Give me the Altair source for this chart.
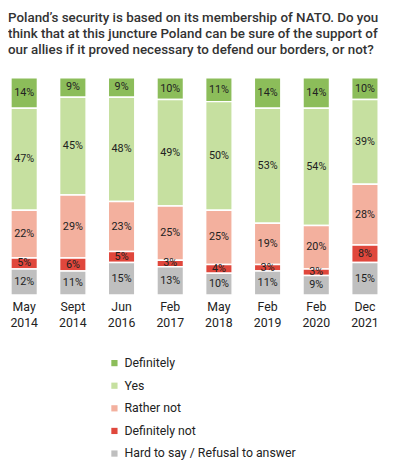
import altair as alt
import pandas as pd

dates = ["May 2014", "Sept 2014", "Jun 2016", "Feb 2017", "May 2018", "Feb 2019", "Feb 2020", "Dec 2021"]
categories = ["Definitely", "Yes", "Rather not", "Definitely not", "Hard to say / Refusal to answer"]
colors = ["#8cbd5a", "#c6e0a0", "#f3b09e", "#e0473c", "#bfbfbf"]

definitely = [14, 9, 9, 10, 11, 14, 14, 10]
yes = [47, 45, 48, 49, 50, 53, 54, 39]
rather_not = [22, 29, 23, 25, 25, 19, 20, 28]
definitely_not = [5, 6, 5, 3, 4, 3, 3, 8]
hard_to_say = [12, 11, 15, 13, 10, 11, 9, 15]

series = [definitely, yes, rather_not, definitely_not, hard_to_say]
stack_order = {c: i for i, c in enumerate(reversed(categories))}

rows = []
for cat, vals in zip(categories, series):
    for d, v in zip(dates, vals):
        rows.append({"date": d, "category": cat, "value": v, "order": stack_order[cat]})
df = pd.DataFrame(rows)

FONT = "Roboto"

base = alt.Chart(df).transform_stack(
    stack="value", groupby=["date"], as_=["y0", "y1"],
    sort=[alt.SortField("order", order="ascending")]
).transform_calculate(
    mid="(datum.y0 + datum.y1) / 2",
    lbl="datum.value + '%'"
)

x = alt.X("date:N", sort=dates,
          scale=alt.Scale(paddingInner=0.455, paddingOuter=0.06),
          axis=alt.Axis(title=None, labelAngle=0, domain=False, ticks=False,
                        labelExpr="split(datum.label, ' ')",
                        labelFont=FONT, labelFontSize=12.5, labelColor="#222222",
                        labelLineHeight=16, labelPadding=6))

bars = base.mark_bar(stroke="white", strokeWidth=1.5).encode(
    x=x,
    y=alt.Y("y0:Q", scale=alt.Scale(domain=[0, 100]), axis=None),
    y2="y1:Q",
    color=alt.Color("category:N", scale=alt.Scale(domain=categories, range=colors),
                    legend=alt.Legend(title=None, orient="none", legendX=102, legendY=284,
                                      symbolType="square", symbolSize=40, symbolStrokeWidth=0,
                                      labelFont=FONT, labelFontSize=12.5, labelColor="#222222",
                                      labelLimit=400, rowPadding=10, labelOffset=4)),
)

labels = base.mark_text(font=FONT, fontSize=11, color="#222222").encode(
    x=alt.X("date:N", sort=dates),
    y=alt.Y("mid:Q"),
    text="lbl:N",
)

chart = alt.layer(bars, labels).properties(
    width=379.5, height=221,
    title=alt.TitleParams(
        ["Poland\u2019s security is based on its membership  of NATO. Do you",
         "think that at this juncture Poland  can be sure of the support of",
         "our allies if it proved necessary to defend our borders, or not?"],
        anchor="start", font=FONT, fontSize=13.6, fontWeight=500, color="#333333",
        lineHeight=16, offset=21),
    autosize=alt.AutoSizeParams(type="none"),
    padding={"left": 0, "top": 67, "right": 8, "bottom": 170},
).configure_view(stroke=None)

chart.save("out.html", embed_options={"renderer": "svg", "actions": False})
